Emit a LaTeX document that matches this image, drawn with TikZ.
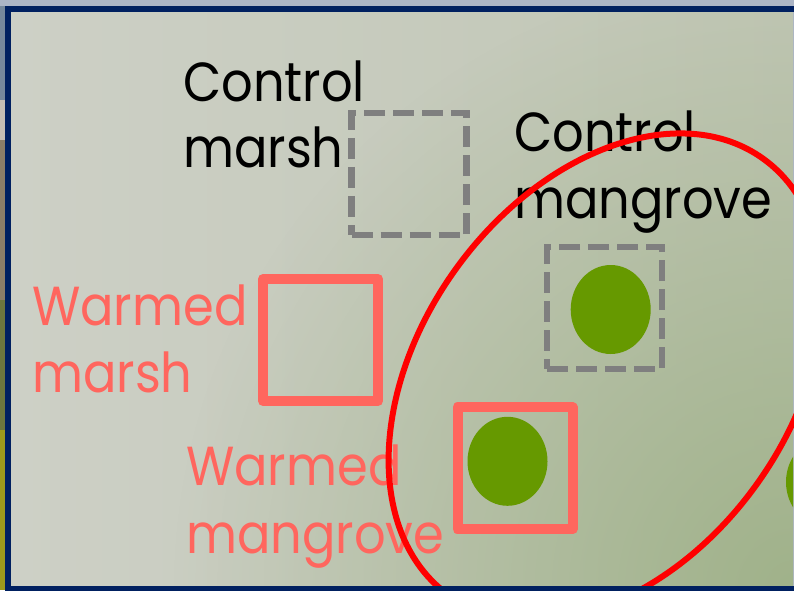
\documentclass[tikz,border=0pt]{standalone}
\usepackage{fontspec}
\setmainfont{Poppins}[FakeStretch=0.9]
\usetikzlibrary{shapes.geometric,fadings}

\definecolor{navy}{RGB}{0,32,96}
\definecolor{salmon}{RGB}{255,102,94}
\definecolor{leaf}{RGB}{102,153,0}
\definecolor{dgrey}{RGB}{127,127,127}
\definecolor{bgL}{RGB}{205,208,198}
\definecolor{bgR}{RGB}{192,198,180}
\definecolor{bgG}{RGB}{160,178,138}
\definecolor{ellred}{RGB}{255,0,0}
\definecolor{photoTop}{RGB}{172,181,198}
\definecolor{photoA}{RGB}{118,136,156}
\definecolor{photoB}{RGB}{196,190,180}
\definecolor{photoC}{RGB}{140,126,104}
\definecolor{photoD}{RGB}{108,118,62}
\definecolor{photoE}{RGB}{156,154,28}

\tikzfading[name=cornerfade, inner color=transparent!0, outer color=transparent!100]
\newcommand\lblfont{\fontsize{55}{66}\selectfont}

\tikzset{
  lbl/.style={anchor=base west, inner sep=0pt, font=\lblfont},
  ctrlbox/.style={draw=dgrey, line width=6.5pt, dash pattern=on 21pt off 8pt,
    minimum width=115pt, minimum height=122pt, inner sep=0pt, rectangle},
  warmbox/.style={draw=salmon, line width=10pt, line join=round,
    minimum width=115pt, minimum height=122pt, inner sep=0pt, rectangle},
  plant/.style={ellipse, fill=leaf, draw=none, minimum width=80pt, minimum height=89pt, inner sep=0pt},
}

\begin{document}
\begin{tikzpicture}[x=1pt,y=1pt]
\useasboundingbox (0,0) rectangle (794,590);
\begin{scope}
\clip (0,0) rectangle (794,590);
% photo behind the slide
\fill[photoTop] (0,0) rectangle (794,590);
\fill[photoA] (0,490) rectangle (6,584);
\fill[photoB] (0,450) rectangle (6,490);
\fill[photoC] (0,290) rectangle (6,450);
\fill[photoD] (0,160) rectangle (6,290);
\fill[photoE] (0,0) rectangle (6,160);
% slide interior
\shade[left color=bgL, right color=bgR] (11,4) rectangle (793,578);
\begin{scope}
\clip (11,4) rectangle (793,578);
\fill[bgG, path fading=cornerfade] (794,0) circle (620);
\node[plant] (edge) at (826,108) {};
\end{scope}

% boxes
\node[ctrlbox] (cmbox) at (409,416) {};
\node[ctrlbox] (cgbox) at (604.7,282) {};
\node[warmbox] (wmbox) at (320.5,250) {};
\node[warmbox] (wgbox) at (515,121.7) {};
\node[plant] (cgplant) at (610.7,280.5) {};
\node[plant] (wgplant) at (507.5,128.7) {};

% labels
\node[lbl] (cmA) at (183,488) {Control};
\node[lbl] (cmB) at (183,422) {marsh};
\node[lbl] (cgA) at (514,438) {Control};
\node[lbl] (cgB) at (514,372) {mangrove};
\node[lbl, text=salmon] (wmA) at (32,265) {Warmed};
\node[lbl, text=salmon] (wmB) at (32,198) {marsh};
\node[lbl, text=salmon] (wgA) at (186,105) {Warmed};
\node[lbl, text=salmon] (wgB) at (186,37) {mangrove};

% highlight ellipse
\draw[ellred, line width=6pt, rotate around={54.2:(606,213)}] (606,213) ellipse [x radius=269, y radius=185];

% slide frame
\draw[navy, line width=6pt] (8,1.3) rectangle (796.5,581);
\end{scope}
\end{tikzpicture}
\end{document}
